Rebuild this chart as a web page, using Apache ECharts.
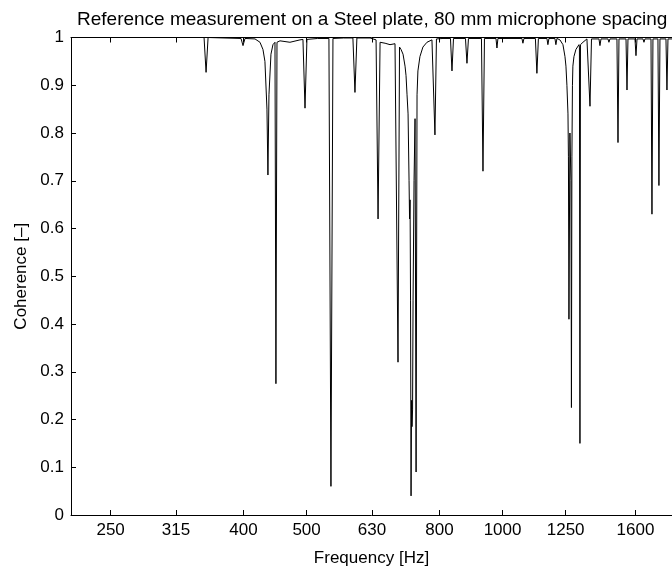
<!DOCTYPE html>
<html>
<head>
<meta charset="utf-8">
<script src="https://cdn.jsdelivr.net/npm/echarts@6/dist/echarts.min.js"></script>
<style>
html,body{margin:0;padding:0;background:#fff;}
#chart{width:672px;height:572px;}
</style>
</head>
<body>
<div id="chart"></div>
<script>
// ---- data ----
var titleText = 'Reference measurement on a Steel plate, 80 mm microphone spacing';
var xAxisName = 'Frequency [Hz]';
var yAxisName = 'Coherence [\u2013]';
var tickFreqs = [250, 315, 400, 500, 630, 800, 1000, 1250, 1600];
var tickLabels = ['250', '315', '400', '500', '630', '800', '1000', '1250', '1600'];
var freqMin = 217.3;
var freqMax = 1821;

var freqHz = [217.3, 300, 347.9, 350.4, 352.9, 396.5, 399.3, 402.1, 416.6, 424.0, 428.5, 431.5, 434.6, 436.1, 437.7, 440.8, 443.9, 447.1, 448.6, 450.3, 455.1, 471.4, 488.4, 493.6, 497.2, 500.6, 520, 541.1, 545.0, 548.9, 570, 589.0, 593.3, 597.4, 625.9, 639.3, 643.8, 648.4, 660.0, 671.6, 683.6, 687.3, 690.9, 694.6, 698.3, 703.3, 708.3, 710.8, 713.3, 715.9, 718.4, 719.7, 721.0, 722.2, 723.5, 724.8, 726.0, 727.4, 728.7, 731.2, 733.8, 736.5, 739.0, 741.3, 746.6, 754.5, 765.4, 779.0, 783.2, 787.3, 791.5, 810, 831.8, 836.2, 840.7, 877.1, 881.7, 886.4, 928.1, 933.1, 938.0, 977.0, 980.4, 983.8, 1071.0, 1074.7, 1078.6, 1123.2, 1129.2, 1135.2, 1170.0, 1174.0, 1178.3, 1203.5, 1207.7, 1212.1, 1225.1, 1238.2, 1247.1, 1251.4, 1255.7, 1260.4, 1262.4, 1264.7, 1269.1, 1273.8, 1275.9, 1278.1, 1280.5, 1282.5, 1287.3, 1296.3, 1310.4, 1312.5, 1314.9, 1317.4, 1329.0, 1347.8, 1355.0, 1362.5, 1369.7, 1406.5, 1411.3, 1416.6, 1451.9, 1456.9, 1462.3, 1498.8, 1504.3, 1509.6, 1547.6, 1553.0, 1558.4, 1597.6, 1603.1, 1609.0, 1643.4, 1649.1, 1654.8, 1690.6, 1696.4, 1702.3, 1732.7, 1738.7, 1745.1, 1782.5, 1788.7, 1795.3, 1821];

var coherence = [1, 1, 1, 0.927, 1, 0.998, 0.983, 0.998, 0.997, 0.99, 0.975, 0.95, 0.85, 0.712, 0.88, 0.965, 0.985, 0.99, 0.275, 0.99, 0.993, 0.99, 0.995, 0.996, 0.852, 0.996, 0.998, 0.998, 0.06, 0.998, 0.999, 0.999, 0.885, 0.999, 0.999, 0.995, 0.62, 0.99, 0.988, 0.985, 0.987, 0.985, 0.32, 0.98, 0.975, 0.965, 0.94, 0.92, 0.88, 0.84, 0.70, 0.62, 0.66, 0.45, 0.04, 0.24, 0.185, 0.22, 0.45, 0.70, 0.83, 0.09, 0.88, 0.93, 0.96, 0.98, 0.99, 0.995, 0.997, 0.796, 0.997, 0.998, 0.998, 0.93, 0.998, 0.998, 0.946, 0.998, 0.998, 0.72, 0.998, 0.998, 0.978, 0.998, 0.998, 0.988, 0.998, 0.998, 0.925, 0.998, 0.998, 0.985, 0.998, 0.998, 0.985, 0.998, 0.995, 0.985, 0.96, 0.94, 0.9, 0.84, 0.75, 0.41, 0.8, 0.7, 0.225, 0.75, 0.9, 0.94, 0.96, 0.975, 0.985, 0.98, 0.15, 0.985, 0.99, 0.997, 0.997, 0.856, 0.997, 0.997, 0.983, 0.997, 0.997, 0.99, 0.997, 0.997, 0.78, 0.997, 0.997, 0.89, 0.997, 0.997, 0.962, 0.997, 0.997, 0.99, 0.997, 0.997, 0.63, 0.997, 0.997, 0.69, 0.997, 0.997, 0.89, 0.997, 0.997];

// ---- chart ----
var FONT = "'Liberation Sans', Arial, Helvetica, sans-serif";
var seriesData = freqHz.map(function (f, i) { return [f, coherence[i]]; });
function labelFor(v) {
  for (var i = 0; i < tickFreqs.length; i++) {
    if (Math.abs(tickFreqs[i] - v) / tickFreqs[i] < 0.01) return tickLabels[i];
  }
  return '';
}
var chart = echarts.init(document.getElementById('chart'), null, {renderer: 'canvas'});
var axisLineStyle = {color: '#000', width: 1};
chart.setOption({
  animation: false,
  backgroundColor: '#fff',
  title: {
    text: titleText,
    left: 72,
    top: 5,
    textStyle: {fontFamily: FONT, fontSize: 19, fontWeight: 'normal', color: '#000'}
  },
  grid: {left: 71, right: 0, top: 37.5, bottom: 55, containLabel: false},
  xAxis: [{
    type: 'log',
    logBase: 10,
    min: freqMin,
    max: freqMax,
    position: 'bottom',
    name: xAxisName,
    nameLocation: 'middle',
    nameGap: 35,
    nameTextStyle: {fontFamily: FONT, fontSize: 17, color: '#000'},
    axisLine: {show: true, onZero: false, lineStyle: axisLineStyle},
    axisTick: {show: true, inside: true, length: 5, lineStyle: axisLineStyle, customValues: tickFreqs},
    minorTick: {show: false},
    axisLabel: {
      show: true, margin: 7, customValues: tickFreqs,
      fontFamily: FONT, fontSize: 17, color: '#000',
      formatter: function (v) { return labelFor(v); }
    },
    splitLine: {show: false}
  }, {
    type: 'log',
    logBase: 10,
    min: freqMin,
    max: freqMax,
    position: 'top',
    axisLine: {show: true, onZero: false, lineStyle: axisLineStyle},
    axisTick: {show: true, inside: true, length: 5, lineStyle: axisLineStyle, customValues: tickFreqs},
    axisLabel: {show: false},
    splitLine: {show: false}
  }],
  yAxis: {
    type: 'value',
    min: 0,
    max: 1,
    interval: 0.1,
    name: yAxisName,
    nameLocation: 'middle',
    nameGap: 41,
    nameRotate: 90,
    nameTextStyle: {fontFamily: FONT, fontSize: 17, color: '#000'},
    axisLine: {show: true, lineStyle: axisLineStyle},
    axisTick: {show: true, inside: true, length: 5, lineStyle: axisLineStyle},
    axisLabel: {margin: 7, fontFamily: FONT, fontSize: 17, color: '#000'},
    splitLine: {show: false}
  },
  series: [{
    type: 'line',
    xAxisIndex: 0,
    data: seriesData,
    showSymbol: false,
    symbol: 'none',
    smooth: false,
    clip: true,
    lineStyle: {color: '#000', width: 1}
  }]
});
</script>
</body>
</html>
